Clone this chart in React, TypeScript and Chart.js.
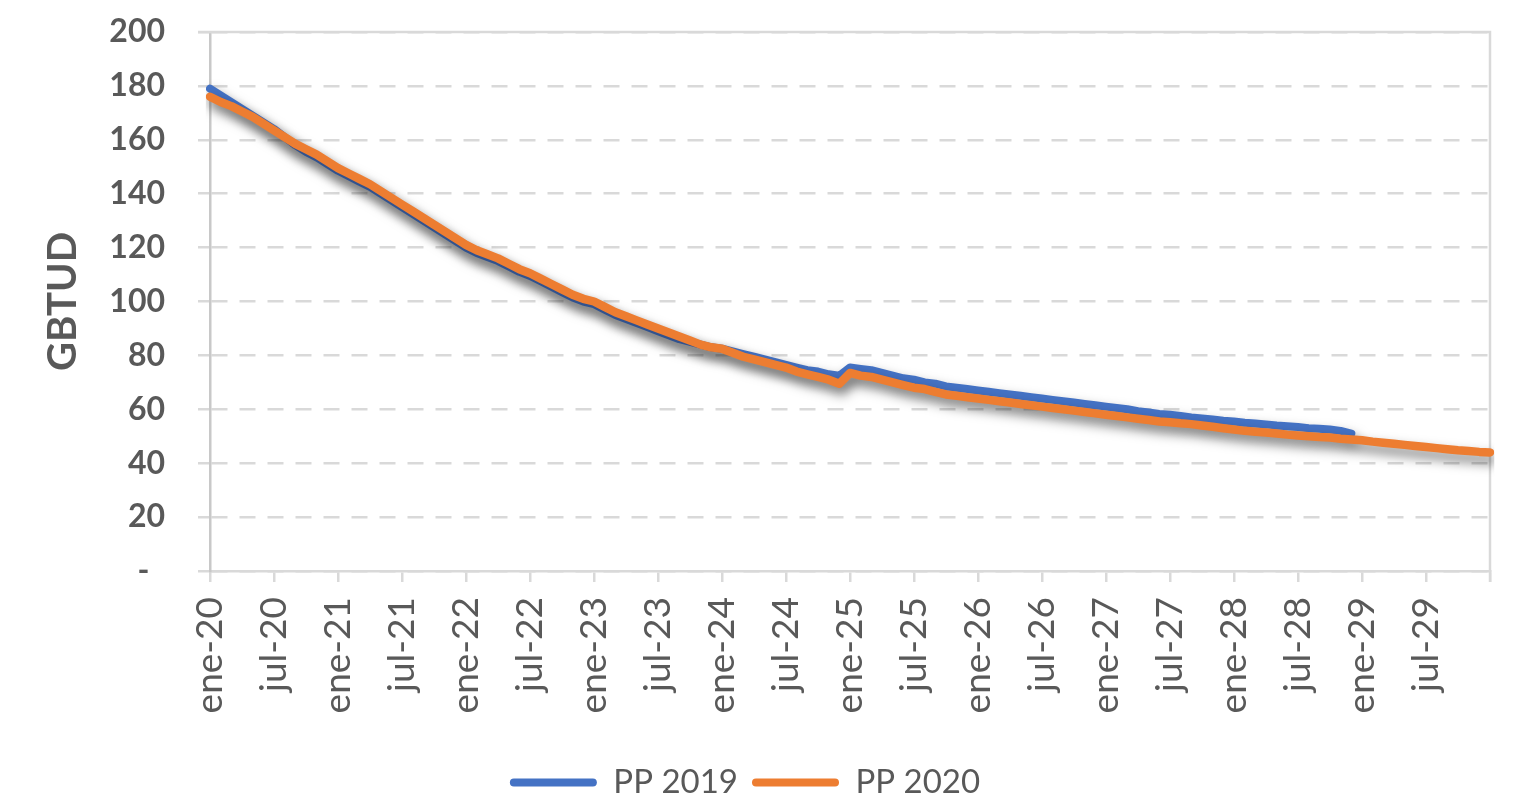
import React, { useEffect, useRef } from "react";
import { Chart, registerables } from "chart.js";

Chart.register(...registerables);

const MONTHS = ["ene", "feb", "mar", "abr", "may", "jun", "jul", "ago", "sep", "oct", "nov", "dic"];
const YEARS = ["20", "21", "22", "23", "24", "25", "26", "27", "28", "29", "30"];

const Y_TICKS = [0, 20, 40, 60, 80, 100, 120, 140, 160, 180, 200];

const PP2019 = [
  179, 176.5, 174, 171.5, 169, 166.5, 164, 161, 158, 155.5, 153.5, 151,
  148.5, 146.5, 144.5, 142.5, 140, 137.5, 135, 132.5, 130, 127.5, 125, 122.5,
  120, 118, 116.5, 115, 113, 111, 109.5, 107.5, 105.5, 103.5, 101.5, 100,
  99, 97, 95, 93.5, 92, 90.5, 89, 87.5, 86, 85, 84, 83,
  82.5, 81.5, 80.5, 79.5, 78.5, 77.5, 76.5, 75.5, 74.5, 74, 73, 72.5,
  75.5, 75, 74.5, 73.5, 72.5, 71.5, 71, 70, 69.5, 68.5, 68, 67.5,
  67, 66.5, 66, 65.5, 65, 64.5, 64, 63.5, 63, 62.5, 62, 61.5,
  61, 60.5, 60, 59.3, 58.8, 58.3, 58, 57.5, 57, 56.6, 56.2, 55.8,
  55.5, 55, 54.7, 54.4, 54, 53.7, 53.4, 53, 52.8, 52.5, 52, 51,
  null, null, null, null, null, null, null, null, null, null, null, null,
  null,
];

const PP2020 = [
  176, 174, 172.5, 170.5, 168.5, 166, 163.5, 161, 158.5, 156.5, 154.5, 152,
  149.5, 147.5, 145.5, 143.5, 141, 138.5, 136, 133.5, 131, 128.5, 126, 123.5,
  121, 119, 117.5, 116, 114, 112, 110.5, 108.5, 106.5, 104.5, 102.5, 101,
  100, 98, 96, 94.5, 93, 91.5, 90, 88.5, 87, 85.5, 84, 83,
  82.5, 81, 79.5, 78.5, 77.5, 76.5, 75.5, 74, 73, 72, 71, 69.5,
  73.5, 72.5, 72, 71, 70, 69, 68, 67.5, 66.5, 65.5, 65, 64.5,
  64, 63.5, 63, 62.5, 62, 61.5, 61, 60.5, 60, 59.5, 59, 58.5,
  58, 57.5, 57, 56.5, 56, 55.5, 55.2, 54.8, 54.5, 54, 53.5, 53,
  52.5, 52, 51.7, 51.4, 51, 50.6, 50.3, 50, 49.7, 49.5, 49.1, 48.8,
  48.5, 48, 47.6, 47.2, 46.8, 46.4, 46, 45.6, 45.2, 44.8, 44.5, 44.2,
  44,
];

const SERIES_NAMES = ["PP 2019", "PP 2020"];
const COLORS = ["#4472C4", "#ED7D31"];

const LABELS: string[] = [];
YEARS.forEach((y) => MONTHS.forEach((m) => LABELS.push(`${m}-${y}`)));
const CATEGORIES = LABELS.slice(0, PP2020.length);

const FONT = "Lato, 'Open Sans', sans-serif";
const TEXT = "#595959";
const GRID = "#d9d9d9";

const shadowPlugin = {
  id: "lineShadow",
  beforeDatasetDraw(chart: any) {
    const ctx = chart.ctx;
    ctx.save();
    ctx.shadowColor = "rgba(0,0,0,0.5)";
    ctx.shadowBlur = 12;
    ctx.shadowOffsetX = 3;
    ctx.shadowOffsetY = 7;
  },
  afterDatasetDraw(chart: any) {
    chart.ctx.restore();
  },
};

const framePlugin = {
  id: "frame",
  beforeDatasetsDraw(chart: any) {
    const { ctx, chartArea } = chart;
    ctx.save();
    ctx.strokeStyle = GRID;
    ctx.lineWidth = 2.5;
    ctx.beginPath();
    ctx.moveTo(chartArea.left - 12, chartArea.top);
    ctx.lineTo(chartArea.right, chartArea.top);
    ctx.lineTo(chartArea.right, chartArea.bottom + 11);
    ctx.stroke();
    ctx.restore();
  },
};

export default function App() {
  const ref = useRef<HTMLCanvasElement | null>(null);

  useEffect(() => {
    if (!ref.current) return;
    const chart = new Chart(ref.current, {
      type: "line",
      data: {
        labels: CATEGORIES,
        datasets: [
          {
            label: SERIES_NAMES[0],
            data: PP2019,
            borderColor: COLORS[0],
            backgroundColor: COLORS[0],
            borderWidth: 8,
            pointRadius: 0,
            borderCapStyle: "round",
            borderJoinStyle: "round",
            tension: 0,
            order: 1,
          },
          {
            label: SERIES_NAMES[1],
            data: PP2020,
            borderColor: COLORS[1],
            backgroundColor: COLORS[1],
            borderWidth: 8.5,
            pointRadius: 0,
            borderCapStyle: "round",
            borderJoinStyle: "round",
            tension: 0,
            order: 0,
          },
        ],
      },
      plugins: [shadowPlugin, framePlugin],
      options: {
        animation: false,
        responsive: true,
        maintainAspectRatio: false,
        layout: { padding: { top: 32, right: 26, left: 0, bottom: -12 } },
        plugins: {
          tooltip: { enabled: false },
          legend: {
            position: "bottom",
            labels: {
              font: { family: FONT, size: 33 },
              color: TEXT,
              boxWidth: 87,
              boxHeight: 8,
              padding: 14,
              useBorderRadius: true,
              borderRadius: 4,
              sort: (a: any, b: any) => a.datasetIndex - b.datasetIndex,
              generateLabels: (chart: any) =>
                chart.data.datasets.map((ds: any, i: number) => ({
                  text: ds.label,
                  fillStyle: ds.borderColor,
                  strokeStyle: ds.borderColor,
                  lineWidth: 0,
                  hidden: false,
                  datasetIndex: i,
                  fontColor: TEXT,
                  borderRadius: 4,
                })),
            },
          },
        },
        scales: {
          x: {
            type: "category",
            offset: false,
            afterFit: (scale: any) => {
              scale.height = 181;
              scale.paddingLeft = 0;
              scale.paddingRight = 0;
            },
            grid: {
              drawOnChartArea: false,
              drawTicks: true,
              tickLength: 11,
              lineWidth: 2.5,
              tickColor: (c: any) => (c.index % 6 === 0 ? GRID : "rgba(0,0,0,0)"),
              color: GRID,
            },
            border: { display: true, color: GRID, width: 2.5 },
            ticks: {
              autoSkip: false,
              maxRotation: 90,
              minRotation: 90,
              padding: 15,
              color: TEXT,
              font: { family: FONT, size: 37 },
              callback: (_v: any, i: number) =>
                i % 6 === 0 && i < CATEGORIES.length - 1 ? CATEGORIES[i] : "",
            },
          },
          y: {
            min: 0,
            max: 200,
            afterFit: (scale: any) => {
              scale.width = 210;
              scale.paddingTop = 0;
              scale.paddingBottom = 0;
            },
            afterBuildTicks: (scale: any) => {
              scale.ticks = Y_TICKS.map((v) => ({ value: v }));
            },
            grid: {
              color: GRID,
              lineWidth: 2.5,
              tickBorderDash: [],
              tickLength: 12,
              tickColor: GRID,
            },
            border: { display: true, color: "#c8c8c8", width: 2.5, dash: [16, 12] },
            ticks: {
              padding: 33,
              color: TEXT,
              font: { family: FONT, size: 32, weight: "bold" },
              callback: (v: any) => (Number(v) === 0 ? "-  " : String(v)),
            },
            title: {
              display: true,
              text: "GBTUD",
              color: TEXT,
              font: { family: FONT, size: 40, weight: "bold" },
              padding: { top: 39, bottom: 0 },
            },
          },
        },
      },
    });
    return () => chart.destroy();
  }, []);

  return (
    <div style={{ position: "absolute", left: 0, top: 0, width: 1516, height: 797, background: "#fff" }}>
      <canvas ref={ref} />
    </div>
  );
}
